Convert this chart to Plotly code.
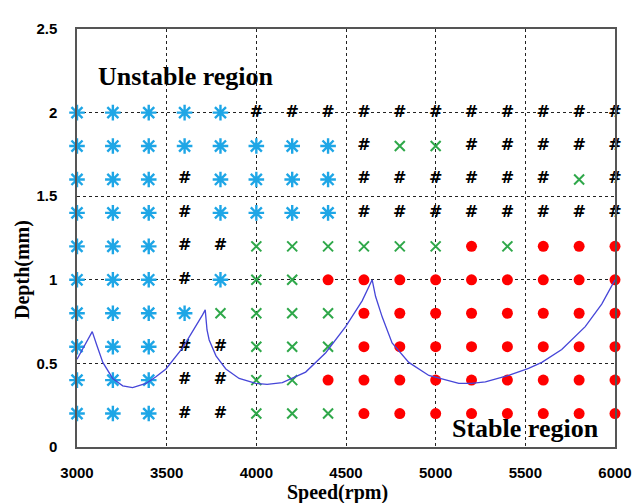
import plotly.graph_objects as go

# ---------------- data ----------------
speeds = [3000, 3200, 3400, 3600, 3800, 4000, 4200, 4400,
          4600, 4800, 5000, 5200, 5400, 5600, 5800, 6000]
depths = [2.0, 1.8, 1.6, 1.4, 1.2, 1.0, 0.8, 0.6, 0.4, 0.2]
# S = blue asterisk, H = black hash, X = green cross, O = red dot
row_codes = [
    "SSSSSHHHHHHHHHHH",  # 2.0
    "SSSSSSSSHXXHHHHH",  # 1.8
    "SSSHSSSSHHHHHHXH",  # 1.6
    "SSSHSSSSHHHHHHHH",  # 1.4
    "SSSHHXXXXXXOXOOO",  # 1.2
    "SSSHSXXOOOOOOOOO",  # 1.0
    "SSSSXXXXOOOOOOOO",  # 0.8
    "SSSHHXXXOOOOOOOO",  # 0.6
    "SSSHHXXOOOOOOOOO",  # 0.4
    "SSSHHXXXOOOOOOOO",  # 0.2
]

lobe_speed = [3000, 3040, 3085, 3110, 3144, 3199, 3255, 3310, 3385, 3440,
              3496, 3589, 3663, 3700, 3715, 3725, 3737, 3775, 3830, 3904,
              3997, 4060, 4145, 4275, 4387, 4498, 4590, 4646, 4665, 4702,
              4757, 4850, 4962, 5073, 5129, 5200, 5277, 5407, 5518, 5592,
              5703, 5834, 5926, 6000]
lobe_depth = [0.525, 0.60, 0.69, 0.61, 0.506, 0.41, 0.366, 0.355, 0.38, 0.42,
              0.467, 0.593, 0.72, 0.79, 0.82, 0.70, 0.64, 0.545, 0.467, 0.41,
              0.38, 0.375, 0.385, 0.448, 0.564, 0.72, 0.874, 1.0, 0.90, 0.777,
              0.622, 0.506, 0.428, 0.394, 0.38, 0.38, 0.39, 0.428, 0.47, 0.506,
              0.583, 0.72, 0.855, 1.0]

x_ticks = [3000, 3500, 4000, 4500, 5000, 5500, 6000]
y_ticks = [0, 0.5, 1, 1.5, 2, 2.5]
y_tick_text = ["0", "0.5", "1", "1.5", "2", "2.5"]

# ---------------- styles ----------------
styles = {
    "S": dict(symbol="asterisk-open", size=13, color="#1EA6E6",
              line=dict(color="#1EA6E6", width=2.4)),
    "X": dict(symbol="x-thin-open", size=10, color="#2FA84A",
              line=dict(color="#2FA84A", width=2)),
    "O": dict(symbol="circle", size=11, color="#FF0000",
              line=dict(color="#FF0000", width=0)),
}


def pick(code):
    xs, ys = [], []
    for d, row in zip(depths, row_codes):
        for s, c in zip(speeds, row):
            if c == code:
                xs.append(s)
                ys.append(d)
    return xs, ys


fig = go.Figure()

for code in ["S", "X", "O"]:
    xs, ys = pick(code)
    fig.add_trace(go.Scatter(x=xs, y=ys, mode="markers", marker=styles[code],
                             cliponaxis=False, showlegend=False))

hx, hy = pick("H")
fig.add_trace(go.Scatter(x=hx, y=hy, mode="text", text=["<b>#</b>"] * len(hx),
                         textposition="middle center",
                         textfont=dict(family="DejaVu Sans", size=16,
                                       color="black"),
                         cliponaxis=False, showlegend=False))

fig.add_trace(go.Scatter(x=lobe_speed, y=lobe_depth, mode="lines",
                         line=dict(color="#4646D8", width=1.3),
                         showlegend=False))

tick_font = dict(family="Liberation Sans", size=15, color="black")
title_font = dict(family="Liberation Serif", size=20, color="black")

# the page body has an 8px margin, so the figure is 8px smaller and the
# left/top margins 8px smaller to put the frame where the reference has it
fig.update_layout(
    width=636, height=495,
    margin=dict(l=69, r=27, t=12, b=56),
    paper_bgcolor="white", plot_bgcolor="white",
    font=dict(family="Liberation Sans"),
    xaxis=dict(range=[3000, 6000], tickvals=x_ticks,
               ticktext=["<b>%d</b>" % v for v in x_ticks],
               tickfont=tick_font, ticks="", ticklabelstandoff=11,
               showgrid=True, gridcolor="#222222", gridwidth=1.3,
               griddash="3px,3px", zeroline=False,
               showline=True, linecolor="#555555", linewidth=1.5, mirror=True),
    yaxis=dict(range=[0, 2.5], tickvals=y_ticks,
               ticktext=["<b>%s</b>" % t for t in y_tick_text],
               tickfont=tick_font, ticks="", ticklabelstandoff=15,
               showgrid=True, gridcolor="#222222", gridwidth=1.3,
               griddash="3px,3px", zeroline=False,
               showline=True, linecolor="#555555", linewidth=1.5, mirror=True),
    annotations=[
        dict(text="<b>Depth(mm)</b>", xref="paper", yref="paper",
             x=-0.100, y=0.424, xanchor="center", yanchor="middle",
             textangle=-90, showarrow=False, font=title_font),
        dict(text="<b>Speed(rpm)</b>", xref="paper", yref="paper",
             x=0.484, y=-0.108, xanchor="center", yanchor="middle",
             showarrow=False, font=title_font),
        dict(text="<b>Unstable region</b>", xref="x", yref="y",
             x=3608, y=2.216, xanchor="center", yanchor="middle",
             showarrow=False,
             font=dict(family="Liberation Serif", size=26, color="black")),
        dict(text="<b>Stable region</b>", xref="x", yref="y",
             x=5499, y=0.11, xanchor="center", yanchor="middle",
             showarrow=False,
             font=dict(family="Liberation Serif", size=26, color="black")),
    ],
)

fig.write_html("out.html")
